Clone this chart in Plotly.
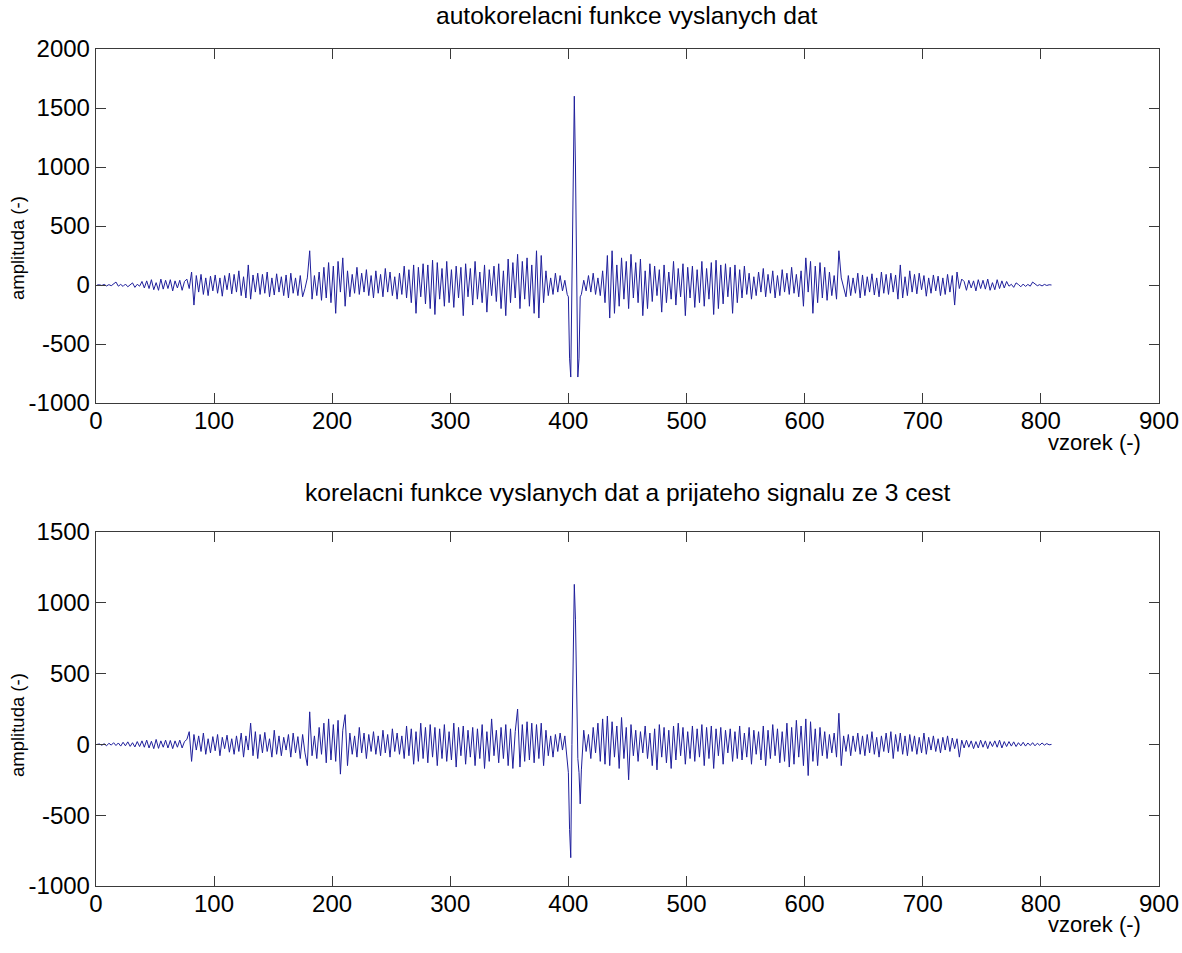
import plotly.graph_objects as go

# sample positions (odd samples outside the main lobe, every sample around the peak)
x_samples = list(range(1, 400, 2)) + list(range(400, 411)) + list(range(411, 810, 2))

# --- top: autocorrelation of transmitted data ---
auto_left = [
    0, 2, -4, 5, -8, 3, -6, 10, 25, -10,
    5, -12, 8, -15, 4, 18, -20, 6, -10, 30,
    -25, 35, -30, 45, -40, 20, -45, 50, -35, 40,
    -30, 45, -50, 35, -25, 40, -45, 30, 50, -30,
    110, -170, 80, -60, 90, -80, 60, -90, 75, -50,
    85, -70, 60, -95, 80, -40, 100, -75, 90, -60,
    120, -90, 70, -110, 170, -120, 85, -60, 100, -80,
    90, -70, 110, -100, 60, -85, 95, -60, 70, -90,
    85, -110, 100, -70, 60, -90, 80, -100, -30, 60,
    290, -120, 80, -90, 110, -130, 150, -110, 190, -150,
    160, -240, 200, -60, 230, -180, 120, -100, 90, -70,
    150, -80, 100, -60, 130, -90, 80, -110, 120, -70,
    90, -100, 140, -60, 110, -90, 70, -120, 100, -80,
    160, -110, 130, -150, 170, -240, 150, -100, 180, -160,
    170, -200, 210, -250, 190, -120, 140, -180, 200, -150,
    130, -190, 160, -110, 150, -260, 180, -100, 140, -170,
    200, -120, 110, -150, 170, -230, 130, -90, 160, -140,
    180, -200, 120, -260, 220, -150, 190, -110, 260, -200,
    200, -120, 230, -180, 170, -240, 290, -280, 250, -150,
    120, -90, 60, -80, 100, -60, 80, -50, 40, -80,
]
auto_peak = [-100, -620, -780, 150, 1000, 1600, 1000, 150, -780, -620, -100]
auto_right = [
    -80, 40, -50, 80, -60, 100, -80, 60, -90, 120,
    -150, 250, -280, 290, -240, 170, -180, 230, -120, 200,
    -200, 260, -110, 190, -150, 220, -260, 120, -200, 180,
    -140, 160, -90, 130, -230, 170, -150, 110, -120, 200,
    -170, 140, -100, 180, -260, 150, -110, 160, -190, 130,
    -150, 200, -180, 140, -120, 190, -250, 210, -200, 170,
    -160, 180, -100, 150, -240, 170, -150, 130, -110, 160,
    -80, 100, -120, 70, -90, 110, -60, 140, -100, 90,
    -70, 120, -110, 80, -90, 130, -60, 100, -80, 150,
    -70, 90, -100, 120, -180, 230, -60, 200, -240, 160,
    -150, 190, -110, 150, -130, 110, -90, 80, -120, 290,
    60, -30, -100, 80, -90, 60, -70, 100, -110, 85,
    -90, 70, -60, 95, -85, 60, -100, 110, -70, 90,
    -80, 100, -60, 85, -120, 170, -110, 70, -90, 120,
    -60, 90, -75, 100, -40, 80, -95, 60, -70, 85,
    -50, 75, -90, 60, -80, 90, -60, 80, -170, 110,
    -30, 50, 30, -45, 40, -25, 35, -50, 45, -30,
    40, -35, 50, -45, 20, -40, 45, -30, 35, -25,
    30, -10, 6, -20, 18, 4, -15, 8, -12, 5,
    -10, 25, 10, -6, 3, -8, 5, -4, 2, 0,
]

# --- bottom: correlation of transmitted data with 3-path received signal ---
cross_left = [
    0, 3, -6, 5, -10, 8, -5, 12, -8, 10,
    -12, 15, -10, 18, -14, 12, -18, 20, -15, 25,
    -20, 30, -25, 22, -30, 35, -28, 25, -20, 30,
    -25, 28, -30, 25, -20, 30, -25, 20, 35, 90,
    -120, 70, -40, 60, -50, 80, -70, 40, -60, 55,
    -45, 70, -80, 50, -30, 65, -55, 40, -70, 60,
    -50, 80, -90, 60, -40, 150, -80, 90, -100, 70,
    -60, 85, -50, 40, -90, 100, -70, 60, -80, 50,
    -40, 70, -90, 80, -60, 55, -100, 70, -60, -150,
    230, -80, 60, -100, 120, -70, 150, -130, 180, -110,
    140, -120, 170, -210, 100, 210, -150, 80, -70, 60,
    -90, 120, -60, 80, -100, 70, -50, 90, -70, 60,
    -80, 100, -60, 70, -90, 110, -50, 80, -70, 60,
    -100, 130, -80, 110, -140, 90, -120, 150, -100, 120,
    -130, 140, -90, 120, -150, 110, -100, 140, -120, 90,
    -110, 150, -160, 120, -80, 130, -140, 100, -90, 120,
    -150, 110, -100, 140, -170, 90, -120, 180, -80, 100,
    -130, 120, -100, 140, -150, 110, -170, 90, 250, -160,
    140, -120, 160, -110, 150, -130, 140, -100, 150, -150,
    100, -80, 60, -90, 70, -50, 80, -40, 60, -100,
]
cross_peak = [-200, -600, -800, 0, 650, 1130, 880, 500, -100, -200, -420]
cross_right = [
    -180, 100, -50, 70, -100, 120, -60, 150, -120, 180,
    -140, 200, -150, 160, -90, 130, -170, 190, -100, 120,
    -250, 140, -80, 100, -120, 90, -60, 130, -100, 80,
    -150, 110, -180, 140, -90, 120, -130, 100, -170, 130,
    -110, 150, -80, 120, -140, 90, -100, 130, -120, 110,
    -90, 140, -150, 120, -100, 130, -170, 110, -80, 120,
    -140, 100, -60, 110, -120, 90, -100, 130, -110, 80,
    -90, 120, -140, 100, -70, 90, -110, 130, -150, 100,
    -100, 140, -80, 110, -130, 90, -120, 150, -160, 120,
    -140, 170, -90, 130, -150, 180, -220, 160, -120, 110,
    -150, 120, -80, 90, -100, 70, -60, 80, -90, 220,
    -150, 60, -50, 70, -80, 60, -50, 80, -70, 60,
    -80, 70, -60, 90, -70, 50, -90, 60, -50, 80,
    -60, 90, -100, 70, -50, 80, -70, 60, -80, 70,
    -50, 60, -70, 50, -60, 80, -70, 50, -40, 60,
    -50, 40, -60, 50, -40, 60, -50, 45, -30, 40,
    -90, 30, -25, 30, -20, 25, -30, 20, -25, 30,
    -20, 25, -30, 20, -15, 25, -20, 30, -25, 20,
    -15, 20, -12, 18, -15, 12, -10, 15, -12, 10,
    -8, 12, -10, 8, -6, 10, -5, 6, -3, 0,
]

auto_vals = auto_left + auto_peak + auto_right
cross_vals = cross_left + cross_peak + cross_right

x_ticks = [0, 100, 200, 300, 400, 500, 600, 700, 800, 900]
top_yticks = [-1000, -500, 0, 500, 1000, 1500, 2000]
bot_yticks = [-1000, -500, 0, 500, 1000, 1500]

title_top = "autokorelacni funkce vyslanych dat"
title_bot = "korelacni funkce vyslanych dat a prijateho signalu ze 3 cest"
xlab = "vzorek (-)"
ylab = "amplituda (-)"

W, H = 1182, 953
FONT = "Liberation Sans, Arial, sans-serif"
LINE = "#1f1f9c"
AX = "#3a3a3a"

fig = go.Figure()
fig.add_trace(go.Scatter(x=x_samples, y=auto_vals, mode="lines",
                         line=dict(color=LINE, width=1), xaxis="x", yaxis="y",
                         showlegend=False, hoverinfo="skip"))
fig.add_trace(go.Scatter(x=x_samples, y=cross_vals, mode="lines",
                         line=dict(color=LINE, width=1), xaxis="x2", yaxis="y2",
                         showlegend=False, hoverinfo="skip"))

xd = [95.9 / W, 1159 / W]
top_dom = [(H - 403) / H, (H - 49) / H]
bot_dom = [(H - 886) / H, (H - 532) / H]

def lab(v):
    return str(v)  # plain hyphen minus, as in the reference

axis_common = dict(showline=True, linecolor=AX, linewidth=1.3, mirror="ticks",
                   ticks="inside", ticklen=10, tickcolor=AX, tickwidth=1,
                   showgrid=False, zeroline=False, automargin=False,
                   tickfont=dict(family=FONT, size=24, color="#000000"))

fig.update_layout(
    width=W, height=H,
    margin=dict(l=0, r=0, t=0, b=0),
    paper_bgcolor="white", plot_bgcolor="white",
    xaxis=dict(domain=xd, range=[0, 900], tickvals=x_ticks,
               ticktext=[lab(v) for v in x_ticks], anchor="y",
               ticklabelstandoff=-4, **axis_common),
    yaxis=dict(domain=top_dom, range=[-1000, 2000], tickvals=top_yticks,
               ticktext=[lab(v) for v in top_yticks], anchor="x",
               ticklabelstandoff=0, **axis_common),
    xaxis2=dict(domain=xd, range=[0, 900], tickvals=x_ticks,
                ticktext=[lab(v) for v in x_ticks], anchor="y2",
                ticklabelstandoff=-4, **axis_common),
    yaxis2=dict(domain=bot_dom, range=[-1000, 1500], tickvals=bot_yticks,
                ticktext=[lab(v) for v in bot_yticks], anchor="x2",
                ticklabelstandoff=0, **axis_common),
)

ann_font_title = dict(family=FONT, size=24.6, color="#000000")
ann_font_xlab = dict(family=FONT, size=22, color="#000000")
ann_font_ylab = dict(family=FONT, size=18.5, color="#000000")
fig.add_annotation(text=title_top, x=627 / W, y=(H - 15) / H, xref="paper", yref="paper",
                   showarrow=False, font=ann_font_title, xanchor="center", yanchor="middle")
fig.add_annotation(text=title_bot, x=627 / W, y=(H - 493) / H, xref="paper", yref="paper",
                   showarrow=False, font=ann_font_title, xanchor="center", yanchor="middle")
fig.add_annotation(text=xlab, x=1094 / W, y=(H - 442) / H, xref="paper", yref="paper",
                   showarrow=False, font=ann_font_xlab, xanchor="center", yanchor="middle")
fig.add_annotation(text=xlab, x=1094 / W, y=(H - 924) / H, xref="paper", yref="paper",
                   showarrow=False, font=ann_font_xlab, xanchor="center", yanchor="middle")
fig.add_annotation(text=ylab, x=17 / W, y=(H - 248) / H, xref="paper", yref="paper",
                   showarrow=False, font=ann_font_ylab, textangle=-90,
                   xanchor="center", yanchor="middle")
fig.add_annotation(text=ylab, x=17 / W, y=(H - 725) / H, xref="paper", yref="paper",
                   showarrow=False, font=ann_font_ylab, textangle=-90,
                   xanchor="center", yanchor="middle")

# remove the default 8px page margin so the figure sits at the window origin
fig.write_html("out.html", config={"displayModeBar": False},
               post_script="document.body.style.margin='0';")
